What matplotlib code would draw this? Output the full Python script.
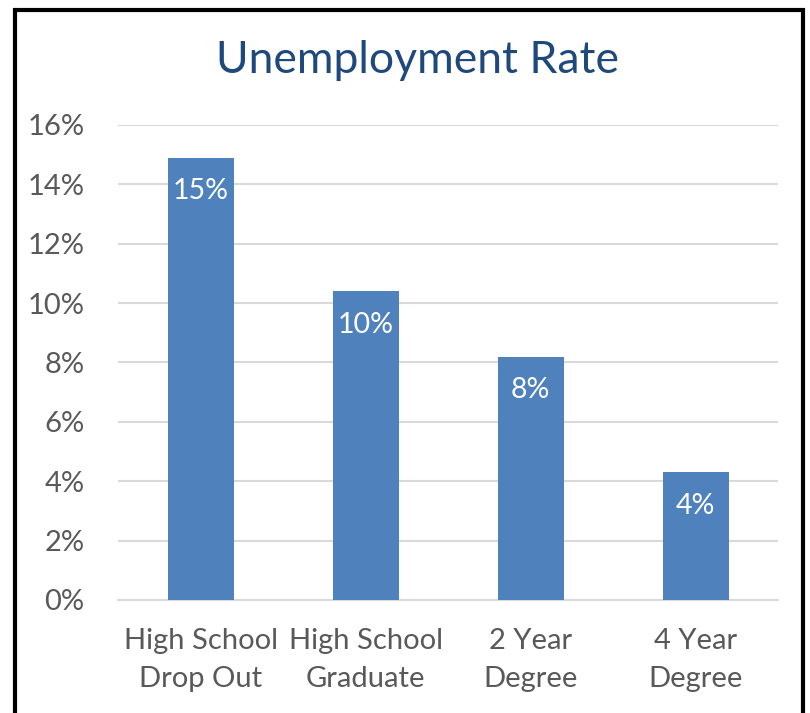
import matplotlib.pyplot as plt
from matplotlib.patches import Rectangle
from matplotlib.ticker import FuncFormatter

plt.rcParams['font.family'] = ['Lato', 'DejaVu Sans']

categories = ["High School\nDrop Out", "High School\nGraduate", "2 Year\nDegree", "4 Year\nDegree"]
rates = [14.9, 10.4, 8.2, 4.3]
labels = ["15%", "10%", "8%", "4%"]
yticks = [0, 2, 4, 6, 8, 10, 12, 14, 16]

bar_color = "#4F81BD"
grid_color = "#D9D9D9"
text_color = "#595959"

fig = plt.figure(figsize=(8.1, 7.13), dpi=100)
ax = fig.add_axes([0.1457, 0.1585, 0.8148, 0.6662])

x = range(len(categories))
bars = ax.bar(x, rates, width=0.4, color=bar_color, zorder=3)

for b, lab in zip(bars, labels):
    ax.annotate(lab, (b.get_x() + b.get_width() / 2, b.get_height()),
                xytext=(0, -24), textcoords="offset points",
                ha="center", va="center", color="white", fontsize=20.5)

ax.set_xlim(-0.5, len(categories) - 0.5)
ax.set_ylim(0, 16)
ax.set_yticks(yticks)
ax.yaxis.set_major_formatter(FuncFormatter(lambda v, p: f"{v:.0f}%"))
ax.set_xticks(list(x))
ax.set_xticklabels(categories, linespacing=1.6)
ax.tick_params(axis="both", length=0, labelsize=21, labelcolor=text_color)
ax.tick_params(axis="x", pad=20)
ax.tick_params(axis="y", pad=24)
ax.grid(axis="y", color=grid_color, linewidth=1.5, zorder=0)
for s in ["top", "right", "left"]:
    ax.spines[s].set_visible(False)
ax.spines["bottom"].set_color(grid_color)
ax.spines["bottom"].set_linewidth(1.5)

fig.text(0.515, 0.915, "Unemployment Rate", ha="center", va="center",
         fontsize=32, color="#1F497D")

# chart border (bottom edge falls outside the image)
fig.patches.append(Rectangle((15 / 810, -0.05), 788 / 810, 1.05 - 10 / 713,
                             transform=fig.transFigure, fill=False,
                             edgecolor="black", linewidth=3))

fig.savefig("out.png", dpi=100)
